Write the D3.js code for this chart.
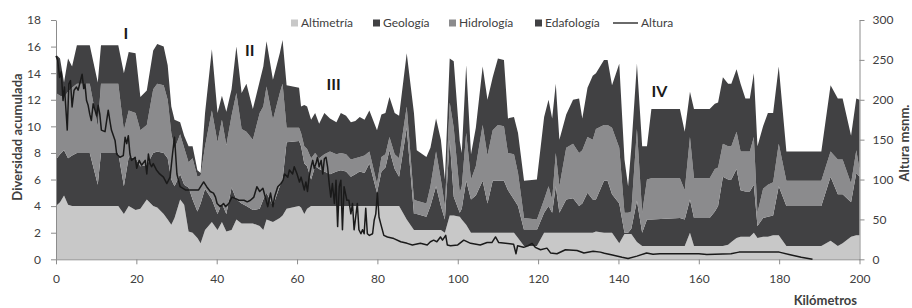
<!DOCTYPE html>
<html>
<head>
<meta charset="utf-8">
<script src="https://cdn.jsdelivr.net/npm/d3@7"></script>
<style>
	body { margin: 0; background: #fff; }
	svg { display: block; font-family: Lato, "Open Sans", sans-serif; }
</style>
</head>
<body>
<svg></svg>
<script>
// kilometre stations for the stacked diversity layers
const km = [0,1,2,3,4,5.2,8.4,10.4,11.2,15.5,
	16.9,18.1,19.8,21,22.6,24.2,25.2,26.8,27.8,28.7,
	29.5,30.9,31.9,33,34,35.2,36,37.1,38.8,40.2,
	41.3,42.4,43.7,44.9,46.2,47.4,49,50.7,51.6,52.4,
	54,55.7,56.4,57.4,60.5,61,61.8,62.5,63.5,64.5,
	65.5,66.8,68.2,69.8,70.9,72.2,73.4,74.5,75.6,76.8,
	78,79.9,81,82,83,84.3,85.4,87.3,89.1,89.8,
	92.2,93.2,94.6,95.8,96.8,98,99,100.5,101,102.1,
	103.3,104.5,106.2,107.4,108.7,110,111.5,112.5,114,115,
	116.5,119.7,121.5,122.6,123.5,124.4,125.3,127,128.7,130.2,
	131,132.3,133.6,134.4,136.4,137.3,138.4,140.2,141.5,142.4,
	143.2,144.6,145.9,147.1,148.2,155.3,156.5,157.8,158.8,162.7,
	164,164.8,166,167.3,168.1,169.4,170.4,171.6,172.7,173.7,
	174.6,176,177.2,178.5,179.9,181.8,190.5,192.8,194.6,195.8,
	197.9,199.2,200];

const altimetria = [4.0,4.3,4.8,4.1,4.0,4.0,4.0,4.0,4.0,4.0,
	3.4,4.0,3.7,3.8,4.5,4.0,3.9,3.4,3.0,2.6,
	3.1,4.5,4.1,2.1,2.0,1.6,1.2,2.2,2.8,2.2,
	2.8,2.1,2.2,3.0,2.7,2.7,2.7,2.5,2.2,3.0,
	2.8,3.1,3.3,3.8,4.0,3.9,3.4,3.8,4.0,4.0,
	4.0,4.0,4.0,4.0,4.0,4.0,4.0,4.0,4.0,4.0,
	4.0,4.0,4.0,4.0,4.0,4.0,4.0,3.0,2.2,2.2,
	2.2,2.2,2.2,2.2,2.0,3.3,3.3,3.2,3.0,2.6,
	2.0,2.0,2.0,2.0,2.0,2.0,2.0,2.0,2.0,1.6,
	1.0,1.0,2.0,2.0,2.0,2.0,2.0,2.0,2.0,2.0,
	2.0,2.0,2.0,2.1,2.0,2.0,2.0,1.2,1.9,1.9,
	1.9,1.3,1.0,1.0,1.0,1.0,1.0,2.0,1.0,1.0,
	1.0,1.0,1.0,1.1,1.3,1.6,1.7,1.7,1.7,2.0,
	1.6,1.7,1.7,1.8,1.8,1.0,1.0,1.4,1.0,1.2,
	1.7,1.8,1.8];

const geologia = [3.5,3.6,3.4,3.5,3.8,4.0,4.0,1.6,4.0,4.0,
	2.1,3.7,3.9,3.2,2.6,4.0,4.2,4.6,4.6,3.4,
	2.4,1.9,1.5,3.3,2.5,2.0,3.0,3.1,1.7,1.2,
	1.4,1.3,3.2,1.5,1.5,1.3,1.0,1.3,2.3,2.0,
	1.2,2.4,2.7,5.0,4.9,4.6,3.8,3.2,2.0,3.0,
	2.8,2.6,2.4,2.6,2.7,2.6,2.2,2.4,2.6,2.5,
	3.2,1.0,2.6,2.9,4.2,2.8,2.2,6.9,1.2,1.2,
	1.0,1.8,3.3,1.8,1.0,5.7,1.4,0.3,0.8,3.3,
	2.5,2.8,3.9,2.2,3.9,3.9,3.9,3.2,2.5,2.4,
	1.2,1.2,1.5,2.0,1.5,3.5,1.5,2.5,2.6,2.0,
	2.2,3.0,2.5,2.4,3.9,3.9,2.9,3.0,0.1,0.1,
	0.4,3.1,1.0,2.0,2.0,2.1,2.0,2.5,2.1,2.1,
	2.6,3.0,5.2,4.9,4.7,5.2,3.5,3.4,3.4,3.6,
	0.9,1.4,1.5,1.5,3.7,3.0,3.0,4.8,3.9,3.7,
	2.6,4.7,4.4];

const hidrologia = [5.0,4.4,4.0,5.0,5.1,5.2,5.2,4.4,5.2,5.2,
	4.2,3.5,3.4,2.7,3.0,4.8,5.1,5.1,4.4,3.5,
	2.8,3.0,2.8,1.9,3.1,2.6,2.1,3.2,6.7,5.4,
	6.3,5.2,5.4,8.0,5.6,5.6,5.3,7.2,7.0,8.0,
	6.5,7.0,7.2,1.1,1.0,1.0,1.3,1.3,1.6,1.0,
	0.8,1.3,1.7,1.3,1.3,1.3,1.3,1.2,1.1,1.3,
	0.9,0.7,1.1,1.0,1.0,1.1,1.4,1.6,1.1,1.0,
	1.0,1.5,2.6,2.0,1.0,2.8,5.2,1.5,1.7,3.6,
	1.5,2.2,4.2,3.6,3.8,4.2,4.1,2.8,3.4,2.5,
	0.9,0.8,1.0,1.5,1.0,2.5,2.0,3.9,4.1,4.0,
	4.0,4.2,4.5,5.3,4.2,4.2,5.0,4.2,1.5,1.5,
	1.3,5.4,1.5,3.0,3.1,3.0,2.2,4.7,3.0,3.0,
	3.2,2.9,2.5,2.5,2.5,2.8,2.9,3.0,3.0,3.6,
	1.0,2.2,2.4,2.5,3.2,1.9,1.9,1.9,2.6,2.6,
	1.4,1.7,0.6];

const edafologia = [2.9,2.8,1.1,2.5,1.6,2.9,2.9,3.3,2.9,2.9,
	4.3,4.4,4.5,2.5,2.6,2.9,3.0,2.9,2.6,2.0,
	2.2,0.9,0.9,1.2,0.9,0.5,0.2,2.5,4.6,2.2,
	1.8,2.5,2.0,3.5,2.7,3.6,2.3,2.4,3.0,3.4,
	3.0,3.0,3.3,3.2,3.0,2.0,3.1,3.2,2.9,3.0,
	2.6,3.1,2.5,2.4,3.0,2.9,2.8,2.8,3.0,2.7,
	3.1,4.0,3.2,3.1,3.0,3.1,3.2,4.0,6.5,3.8,
	3.5,2.9,2.5,3.0,2.0,3.3,5.0,3.9,2.5,5.1,
	1.9,2.9,4.4,4.2,4.0,5.0,5.0,2.6,2.8,3.0,
	2.8,3.0,6.2,6.5,6.1,5.2,3.5,2.5,3.3,4.1,
	2.4,3.7,4.8,4.2,4.9,4.9,3.2,6.3,4.0,2.0,
	4.8,4.9,5.0,2.5,5.2,5.2,4.4,3.4,5.2,5.2,
	4.9,4.9,5.0,4.7,4.7,4.7,5.1,4.0,4.0,4.8,
	5.0,4.7,5.4,5.2,5.8,2.2,2.2,5.0,4.6,4.6,
	3.6,3.9,5.2];

// altitude profile (m a.s.l.), right axis
const alturaKm = [0,0.4,0.9,1.3,1.75,2.1,2.6,2.8,3.2,3.6,
	4,4.5,5.1,5.5,5.9,6.5,6.9,7.2,7.6,8,
	8.4,8.8,9.25,9.7,10.1,10.5,10.9,11.3,12.2,13,
	13.4,13.8,14.7,15.1,15.9,16.75,17.2,17.6,18,18.4,
	18.8,19.7,20.1,20.7,21.3,22.2,22.6,23,23.4,23.8,
	24.2,25,25.8,26.75,27.6,28.4,29,29.5,30.1,30.9,
	32.2,33.8,35.5,36.75,37.5,38.4,39.2,39.7,40.1,40.9,
	41.7,42.2,43,43.8,44.7,45.5,46.8,47.6,48.4,49.25,
	50,50.7,51.5,52.3,52.7,53.4,54,54.4,55.2,56,
	56.5,56.9,57.7,58.1,58.9,59.3,60,60.6,61,61.8,
	62.2,62.6,63,63.5,63.9,64.3,64.7,65.1,65.5,66,
	66.4,66.8,67.2,67.6,68,68.4,68.8,69.3,69.7,70.1,
	70.5,70.9,71.3,71.7,72.4,72.9,73.4,73.8,74.2,74.6,
	75,75.4,75.9,76.3,76.7,77.1,77.5,78,78.8,79.2,
	79.6,80,80.4,80.8,81.6,82.5,84.1,85.8,87.4,88.7,
	90.7,92.4,93.2,94,94.8,95.7,96.2,97,97.4,98.2,
	100,101.5,103.2,105.6,107.3,108.5,109.4,110.2,113.9,114.5,
	114.9,116.4,117.5,118.5,119.3,120.6,122.2,123.1,124.7,126.8,
	129.7,131.4,133.7,135.5,136.5,138.5,140.9,142.4,144.6,147,
	148.6,150.3,160,162,168,170,180,183,185.5,188.3];

const altura = [255,250,228,235,199,216,178,162,220,224,
	191,212,216,212,220,232,214,220,199,193,
	182,174,195,187,180,193,182,162,160,187,
	174,162,149,132,128,130,153,145,155,132,
	124,128,114,124,118,124,107,132,120,116,
	120,112,107,103,95,103,132,153,107,91,
	87,87,87,97,91,85,83,78,70,66,
	70,66,70,78,76,74,74,72,74,78,
	91,85,89,74,66,83,66,78,91,95,
	99,107,103,112,107,116,107,97,103,87,
	97,85,103,116,124,114,120,128,116,124,
	107,126,128,116,95,78,95,70,99,41,
	91,99,37,91,74,74,57,70,37,53,
	70,37,32,37,32,64,32,30,32,49,
	57,83,53,45,30,28,26,22,20,18,
	20,18,22,24,22,28,24,30,18,17,
	18,24,20,18,21,21,28,21,19,7,
	17,15,17,20,15,12,14,8,7,12,
	11,8,10,9,7.5,5.4,2.5,1,4,8,
	6.3,7,7,6,7,9,9,5.4,2.5,0];

const seriesNames = ["Altimetría", "Geología", "Hidrología", "Edafología"];
const lineName = "Altura";
const xTicks = [0, 20, 40, 60, 80, 100, 120, 140, 160, 180, 200];
const leftTicks = [0, 2, 4, 6, 8, 10, 12, 14, 16, 18];
const rightTicks = [0, 50, 100, 150, 200, 250, 300];
const zoneLabels = ["I", "II", "III", "IV"];
const zoneKm = [17.4, 48.2, 69.1, 150.2];
const zoneLevel = [16.56, 15.29, 12.73, 12.2];

const size = { w: 912, h: 308 };
const margin = { t: 20, r: 52.5, b: 48.7, l: 56 };
const colors = ["#c8c8c8", "#414143", "#8b8b8d", "#414143"];
const axisGrey = "#8c8c8c";
const textGrey = "#404040";

const svg = d3.select("svg").attr("width", size.w).attr("height", size.h);

const x = d3.scaleLinear().domain([0, 200]).range([margin.l, size.w - margin.r]);
const yL = d3.scaleLinear().domain([0, 18]).range([size.h - margin.b, margin.t]);
const yR = d3.scaleLinear().domain([0, 300]).range([size.h - margin.b, margin.t]);

drawAreas();
drawAxes();
drawLine();
drawLegend();
drawLabels();

function drawAreas() {
	const layers = [altimetria, geologia, hidrologia, edafologia];
	const table = km.map(function (k, i) {
		let row = { km: k };
		seriesNames.forEach((name, j) => (row[name] = layers[j][i]));
		return row;
	});
	const stacked = d3.stack().keys(seriesNames)(table);
	const area = d3
		.area()
		.x((d) => x(d.data.km))
		.y0((d) => yL(d[0]))
		.y1((d) => yL(d[1]));

	svg.append("g")
		.selectAll("path")
		.data(stacked)
		.enter()
		.append("path")
		.attr("d", area)
		.attr("fill", (d, i) => colors[i]);
}

function styleAxis(g) {
	g.selectAll(".domain").attr("stroke", axisGrey);
	g.selectAll(".tick line").attr("stroke", axisGrey);
	g.selectAll(".tick text")
		.attr("fill", textGrey)
		.style("font-size", "12px")
		.style("font-family", "Lato, 'Open Sans', sans-serif");
}

function drawAxes() {
	const y0 = size.h - margin.b;
	svg.append("g")
		.attr("transform", `translate(0,${y0})`)
		.call(d3.axisBottom(x).tickValues(xTicks).tickSize(5).tickPadding(10).tickSizeOuter(0))
		.call(styleAxis);

	svg.append("g")
		.attr("transform", `translate(${margin.l},0)`)
		.call(d3.axisLeft(yL).tickValues(leftTicks).tickSize(5).tickPadding(10).tickSizeOuter(0))
		.call(styleAxis);

	svg.append("g")
		.attr("transform", `translate(${size.w - margin.r},0)`)
		.call(d3.axisRight(yR).tickValues(rightTicks).tickSize(5).tickPadding(8).tickSizeOuter(0))
		.call(styleAxis);
}

function drawLine() {
	const line = d3
		.line()
		.x((d, i) => x(alturaKm[i]))
		.y((d) => yR(d));
	svg.append("path")
		.datum(altura)
		.attr("d", line)
		.attr("fill", "none")
		.attr("stroke", "#1a1a1a")
		.attr("stroke-width", 1.5)
		.attr("stroke-linejoin", "round");
}

function drawLegend() {
	const legendX = [291, 373, 449, 535];
	const lg = svg.append("g").style("font-size", "12px").attr("fill", textGrey);
	seriesNames.forEach(function (name, i) {
		lg.append("rect")
			.attr("x", legendX[i])
			.attr("y", 19.5)
			.attr("width", 7)
			.attr("height", 7)
			.attr("fill", colors[i]);
		lg.append("text").attr("x", legendX[i] + 10).attr("y", 27).text(name);
	});
	lg.append("line")
		.attr("x1", 613).attr("x2", 638)
		.attr("y1", 23).attr("y2", 23)
		.attr("stroke", "#1a1a1a")
		.attr("stroke-width", 1.3);
	lg.append("text").attr("x", 641).attr("y", 27).text(lineName);
}

function drawLabels() {
	svg.append("g")
		.selectAll("text")
		.data(zoneLabels)
		.enter()
		.append("text")
		.attr("x", (d, i) => x(zoneKm[i]))
		.attr("y", (d, i) => yL(zoneLevel[i]))
		.attr("text-anchor", "middle")
		.style("font-size", "16px")
		.style("font-weight", "bold")
		.attr("fill", "#1a1a1a")
		.text((d) => d);

	svg.append("text")
		.attr("transform", "translate(22,137) rotate(-90)")
		.attr("text-anchor", "middle")
		.style("font-size", "13px")
		.style("font-weight", "bold")
		.attr("fill", textGrey)
		.text("Diversidad acumulada");

	svg.append("text")
		.attr("transform", "translate(909,143) rotate(-90)")
		.attr("text-anchor", "middle")
		.style("font-size", "13px")
		.style("font-weight", "bold")
		.attr("fill", textGrey)
		.text("Altura msnm.");

	svg.append("text")
		.attr("x", 857)
		.attr("y", 305)
		.attr("text-anchor", "end")
		.style("font-size", "13px")
		.style("font-weight", "bold")
		.attr("fill", textGrey)
		.text("Kilómetros");
}
</script>
</body>
</html>
